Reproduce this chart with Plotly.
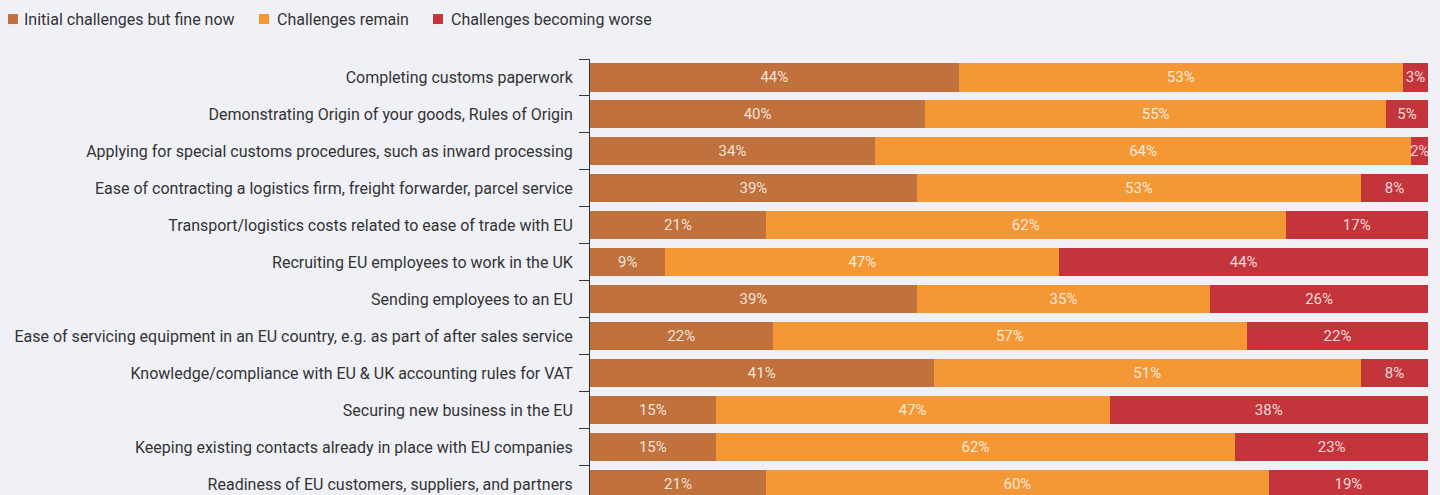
import plotly.graph_objects as go

categories = [
    "Completing customs paperwork",
    "Demonstrating Origin of your goods, Rules of Origin",
    "Applying for special customs procedures, such as inward processing",
    "Ease of contracting a logistics firm, freight forwarder, parcel service",
    "Transport/logistics costs related to ease of trade with EU",
    "Recruiting EU employees to work in the UK",
    "Sending employees to an EU",
    "Ease of servicing equipment in an EU country, e.g. as part of after sales service",
    "Knowledge/compliance with EU & UK accounting rules for VAT",
    "Securing new business in the EU",
    "Keeping existing contacts already in place with EU companies",
    "Readiness of EU customers, suppliers, and partners",
]
initial_fine = [44, 40, 34, 39, 21, 9, 39, 21.8, 41, 15, 15, 21]
remain = [53, 55, 64, 53, 62, 47, 35, 56.6, 51, 47, 62, 60]
worse = [3, 5, 2, 8, 17, 44, 26, 21.6, 8, 38, 23, 19]

series_names = ["Initial challenges but fine now", "Challenges remain", "Challenges becoming worse"]
colors = ["#C1713B", "#F39835", "#C3353B"]

font_family = "Roboto, 'Liberation Sans', sans-serif"
BG = "#F0F1F7"

W, H = 1440, 495
ML, MR, MT, MB = 590, 12, 58.5, 0
plot_w = W - ML - MR

fig = go.Figure()
for name, vals, col in zip(series_names, [initial_fine, remain, worse], colors):
    fig.add_trace(go.Bar(
        y=categories, x=vals, name=name, orientation="h",
        marker=dict(color=col, line=dict(width=0)),
        texttemplate="%{x:.0f}%", textposition="inside",
        insidetextanchor="middle", textangle=0,
        textfont=dict(family=font_family, size=15, color="rgba(255,255,255,0.82)"),
        cliponaxis=True, hoverinfo="skip", showlegend=False,
    ))

# custom legend (square swatch + label), positioned in pixels converted to paper coords
legend_px = [(8, 22), (259, 275), (433, 449)]
legend_y_px = 18.5
def px_to_paper_x(px):
    return (px - ML) / plot_w
def px_to_paper_y(py):
    return (H - MB - py) / (H - MT - MB)

shapes = []
annotations = []
for (sq_x, tx_x), name, col in zip(legend_px, series_names, colors):
    shapes.append(dict(
        type="rect", xref="paper", yref="paper",
        x0=px_to_paper_x(sq_x), x1=px_to_paper_x(sq_x + 10),
        y0=px_to_paper_y(legend_y_px + 5), y1=px_to_paper_y(legend_y_px - 5),
        fillcolor=col, line=dict(width=0),
    ))
    annotations.append(dict(
        text=name, xref="paper", yref="paper",
        x=px_to_paper_x(tx_x), y=px_to_paper_y(legend_y_px),
        xanchor="left", yanchor="middle", showarrow=False,
        font=dict(family=font_family, size=16, color="#333333"),
    ))

fig.update_layout(
    width=W, height=H,
    barmode="stack", bargap=0.24,
    paper_bgcolor=BG, plot_bgcolor=BG,
    margin=dict(l=ML, r=MR, t=MT, b=MB, autoexpand=False),
    font=dict(family=font_family, size=16, color="#333333"),
    uniformtext=dict(minsize=15, mode="show"),
    showlegend=False,
    shapes=shapes, annotations=annotations,
)
fig.update_xaxes(range=[0, 100], visible=False, showgrid=False, zeroline=False)
fig.update_yaxes(
    type="category", range=[11.297, -0.5],
    showline=True, linecolor="#333333", linewidth=1,
    ticks="outside", ticklen=10, tickcolor="#333333", tickwidth=1,
    tickson="boundaries", ticklabelstandoff=13,
    showgrid=False, zeroline=False,
    tickfont=dict(size=16, color="#333333"),
)

fig.write_html(
    "out.html",
    config={"displayModeBar": False},
    post_script="document.body.style.margin='0';document.body.style.background='" + BG + "';",
)
